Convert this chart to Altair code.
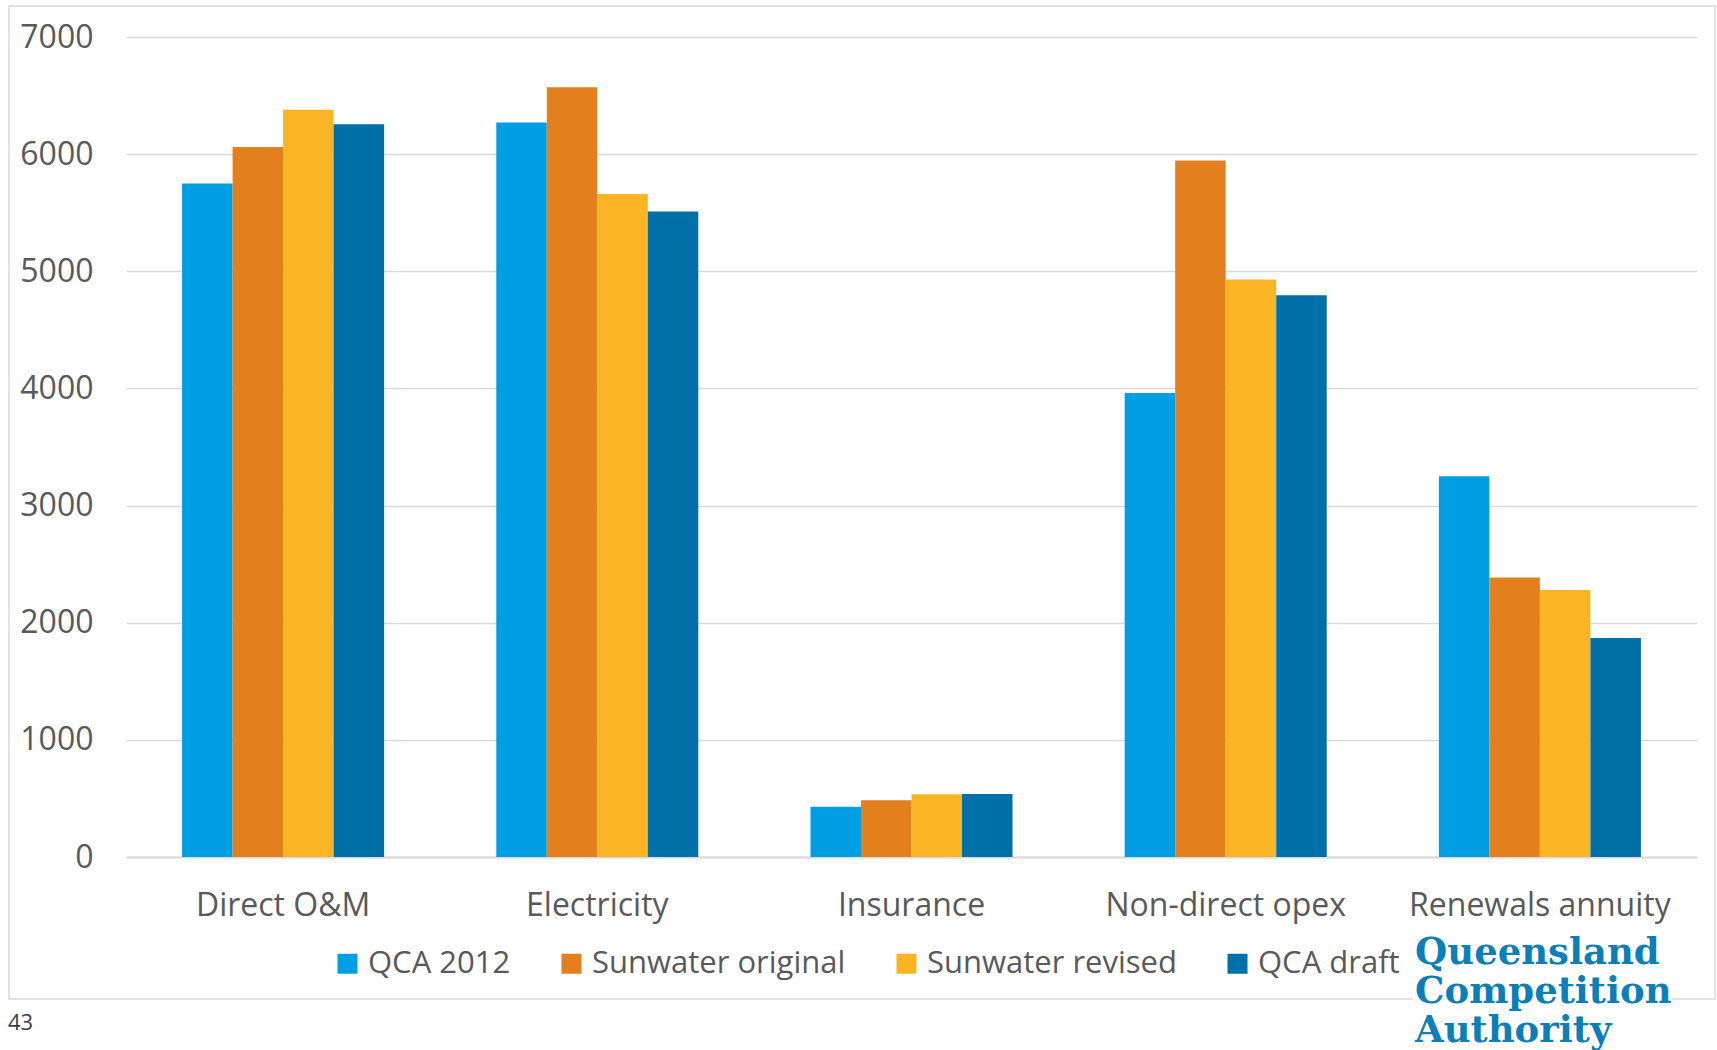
import altair as alt
import pandas as pd

# Opex components and the four estimates for each
categories = ["Direct O&M", "Electricity", "Insurance", "Non-direct opex", "Renewals annuity"]
series = ["QCA 2012", "Sunwater original", "Sunwater revised", "QCA draft"]
qca_2012 = [5750, 6270, 430, 3960, 3250]
sunwater_original = [6060, 6570, 485, 5945, 2385]
sunwater_revised = [6380, 5660, 535, 4930, 2280]
qca_draft = [6255, 5510, 537, 4795, 1870]
series_colors = ["#009FE3", "#E37F1D", "#FBB424", "#0071A8"]
y_ticks = [0, 1000, 2000, 3000, 4000, 5000, 6000, 7000]

logo_lines = ["Queensland", "Competition", "Authority"]
page_number = "43"

rows = []
for name, vals in zip(series, [qca_2012, sunwater_original, sunwater_revised, qca_draft]):
    for cat, v in zip(categories, vals):
        rows.append({"category": cat, "series": name, "value": v})
df = pd.DataFrame(rows)

TEXT = "#595959"
GRID = "#D9D9D9"
FONT = "Open Sans"

bars = alt.Chart(df).mark_bar().encode(
    x=alt.X(
        "category:N",
        sort=categories,
        scale=alt.Scale(paddingInner=0.357, paddingOuter=0.1785),
        axis=alt.Axis(
            title=None, labelAngle=0, ticks=False, domain=True,
            domainColor=GRID, domainWidth=2, labelPadding=33,
            labelFontSize=32, labelColor=TEXT, labelFont=FONT, labelLimit=400,
        ),
    ),
    xOffset=alt.XOffset("series:N", sort=series, scale=alt.Scale(paddingInner=0, paddingOuter=0)),
    y=alt.Y(
        "value:Q",
        scale=alt.Scale(domain=[0, 7000], nice=False),
        axis=alt.Axis(
            title=None, values=y_ticks, format="d", grid=True, gridColor=GRID, gridWidth=1.5,
            ticks=False, domain=False, labelPadding=33,
            labelFontSize=32, labelColor=TEXT, labelFont=FONT,
        ),
    ),
    color=alt.Color(
        "series:N",
        sort=series,
        scale=alt.Scale(domain=series, range=series_colors),
        legend=alt.Legend(
            title=None, orient="none", direction="horizontal",
            legendX=206, legendY=911, padding=0,
            symbolType="square", symbolSize=400, symbolStrokeWidth=0,
            labelFontSize=31, labelColor=TEXT, labelFont=FONT, labelLimit=400,
            labelOffset=5, columnPadding=45,
        ),
    ),
)

one = alt.Data(values=[{}])

frame = alt.Chart(one).mark_rect(fillOpacity=0, stroke=GRID, strokeWidth=1.5).encode(
    x=alt.value(-117), x2=alt.value(1589), y=alt.value(-31), y2=alt.value(962)
)

logo_bg = alt.Chart(one).mark_rect(color="white").encode(
    x=alt.value(1287), x2=alt.value(1545), y=alt.value(950), y2=alt.value(1013)
)

logo = alt.Chart(one).mark_text(
    text=logo_lines, align="left", baseline="alphabetic",
    font="DejaVu Serif", fontWeight="bold", fontSize=37, lineHeight=39,
    color="#0C80B6",
).encode(x=alt.value(1289), y=alt.value(927))

page_no = alt.Chart(one).mark_text(
    text=page_number, align="left", baseline="alphabetic",
    font=FONT, fontSize=22, color="#404040",
).encode(x=alt.value(-118), y=alt.value(993))

chart = alt.layer(frame, bars, logo_bg, logo, page_no).properties(
    width=1571,
    height=820,
    padding={"left": 126, "top": 37, "right": 20, "bottom": 193},
    autosize=alt.AutoSizeParams(type="none"),
    background="white",
).configure_view(strokeWidth=0)

chart.save("out.html", embed_options={"renderer": "svg", "actions": False})
